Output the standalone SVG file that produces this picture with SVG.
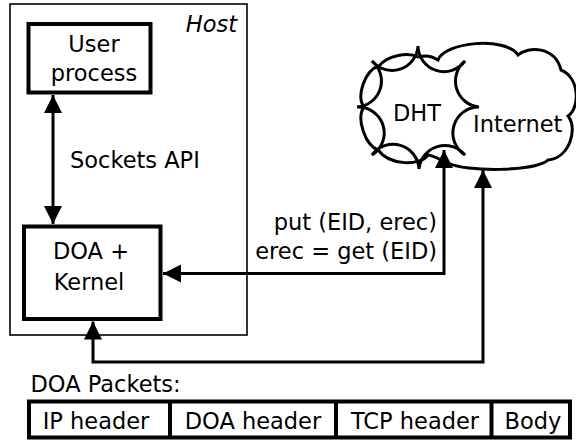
<svg xmlns="http://www.w3.org/2000/svg" width="576" height="440" viewBox="0 0 576 440">
<defs>
<style>
text{font-family:"DejaVu Sans","Liberation Sans",sans-serif;font-size:22.5px;fill:#000}
.box{fill:none;stroke:#000;stroke-width:4}
.thin{fill:none;stroke:#000;stroke-width:1.6}
.shape{fill:none;stroke:#000;stroke-width:3;stroke-linejoin:miter}
.conn{fill:none;stroke:#000;stroke-width:3}
</style>
<marker id="ah" viewBox="0 0 18 18" refX="18" refY="9" markerWidth="18" markerHeight="18" markerUnits="userSpaceOnUse" orient="auto-start-reverse">
<path d="M0,0 L18,9 L0,18 Z" fill="#000"/>
</marker>
</defs>
<rect x="0" y="0" width="576" height="440" fill="#fff"/>
<g id="host">
<rect class="thin" x="10" y="4" width="237" height="331"/>
<text x="237" y="32" text-anchor="end" font-style="italic">Host</text>
</g>
<g id="user-process">
<rect class="box" x="28.5" y="24" width="122" height="68.5"/>
<text x="94" y="52" text-anchor="middle">User</text>
<text x="94" y="81" text-anchor="middle">process</text>
</g>
<g id="doa-kernel">
<rect class="box" x="24" y="226.5" width="136.5" height="92.5"/>
<text x="91" y="259" text-anchor="middle">DOA +</text>
<text x="89" y="290" text-anchor="middle">Kernel</text>
</g>
<g id="internet">
<path class="shape" d="M418,57 C425,55 432,56 438,60 C445,42 505,36 518,55 C528,46 555,46 561,70 C580,78 580,108 568,116 C578,128 570,158 548,160 C535,172 465,172 448,163 C440,160 435,156 428,155 C420,166 390,166 378,150 C365,145 356,118 364,107 C356,96 365,70 379,66 C388,55 408,52 418,57 Z"/>
<text x="473" y="132">Internet</text>
</g>
<g id="dht">
<path class="shape" d="M418,46 A26,26 0 0 0 465,61 A26,26 0 0 0 479,107 A26,26 0 0 0 465,155 A26,26 0 0 0 419,169 A26,26 0 0 0 372,155 A26,26 0 0 0 357,107 A26,26 0 0 0 372,61 A26,26 0 0 0 418,46 Z"/>
<text x="417" y="121" text-anchor="middle">DHT</text>
</g>
<g id="connectors">
<line class="conn" x1="53" y1="95" x2="53" y2="224" marker-start="url(#ah)" marker-end="url(#ah)"/>
<path class="conn" d="M444,150 L444,273.5 L163,273.5" marker-start="url(#ah)" marker-end="url(#ah)"/>
<path class="conn" d="M93,321.5 L93,362 L483,362 L483,170" marker-start="url(#ah)" marker-end="url(#ah)"/>
</g>
<g id="labels">
<text x="70" y="168">Sockets API</text>
<text x="437" y="230" text-anchor="end">put (EID, erec)</text>
<text x="437" y="258.5" text-anchor="end">erec = get (EID)</text>
<text x="30.5" y="391.5">DOA Packets:</text>
</g>
<g id="packet">
<rect class="box" x="29" y="401.5" width="541" height="36"/>
<line class="box" x1="170" y1="401.5" x2="170" y2="437.5"/>
<line class="box" x1="336" y1="401.5" x2="336" y2="437.5"/>
<line class="box" x1="491.5" y1="401.5" x2="491.5" y2="437.5"/>
<text x="96" y="429" text-anchor="middle">IP header</text>
<text x="253" y="429" text-anchor="middle">DOA header</text>
<text x="415" y="429" text-anchor="middle">TCP header</text>
<text x="533" y="429" text-anchor="middle">Body</text>
</g>
</svg>
